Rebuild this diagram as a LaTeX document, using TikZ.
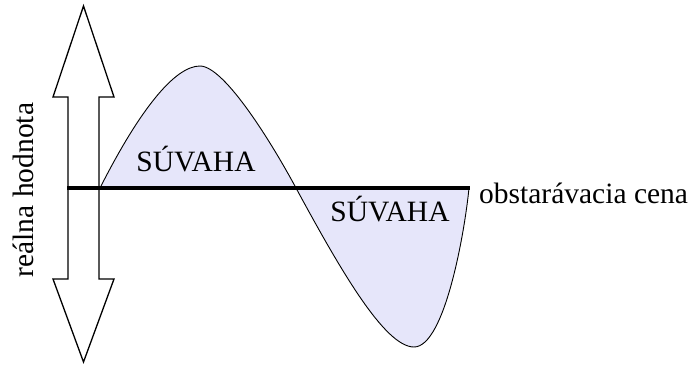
\documentclass[tikz,border=0pt]{standalone}
\usepackage{fontspec}
\setmainfont{Liberation Serif}
\usetikzlibrary{positioning}
\definecolor{lobefill}{RGB}{230,230,250}
\tikzset{
	arrowshape/.style={
		draw=black,
		fill=white,
		line width=1.3pt,
		line join=miter
	},
	lobe/.style={
		fill=lobefill,
		draw=black,
		line width=0.9pt
	},
	axisline/.style={
		line width=4pt
	},
	lobetext/.style={
		inner sep=0pt,
		font=\fontsize{29.5}{31}\selectfont
	}
}

\begin{document}
\begin{tikzpicture}[x=1pt,y=-1pt]
	\useasboundingbox (0,0) rectangle (689,365);
	
	% Double arrow
	\coordinate (tipT) at (83.5,6);
	\coordinate (tipB) at (83.5,362);
	\draw[arrowshape] (tipT) -- (114,97) -- (99,97) -- (99,279) -- (114,279)
		-- (tipB) -- (53,279) -- (68,279) -- (68,97) -- (53,97) -- cycle;
	
	% Curve points
	\coordinate (start) at (100,188);
	\coordinate (peak) at (200,66);
	\coordinate (cross) at (296,188);
	\coordinate (trough) at (414,347);
	\coordinate (stop) at (469,188);
	
	% Lobes
	\fill[lobefill] (start) .. controls (140,109) and (175,66) .. (peak)
		.. controls (225,66) and (274,147) .. (cross)
		.. controls (341,271) and (385,347) .. (trough)
		.. controls (445,347) and (465,230) .. (stop) -- cycle;
	\draw[line width=0.9pt] (start) .. controls (140,109) and (175,66) .. (peak)
		.. controls (225,66) and (274,147) .. (cross)
		.. controls (341,271) and (385,347) .. (trough)
		.. controls (445,347) and (465,230) .. (stop);
	
	% Axis
	\coordinate (axL) at (67,188);
	\coordinate (axR) at (470,188);
	\draw[axisline] (axL) -- (axR);
	
	% Texts
	\node[lobetext,anchor=base] (upper) at (196,171.5) {SÚVAHA};
	\node[lobetext,anchor=base] (lower) at (390,221.5) {SÚVAHA};
	\node[lobetext,anchor=base west] (cena) at (479,203) {obstarávacia cena};
	\node[lobetext,anchor=base,rotate=90] (hodnota) at (33,190) {reálna hodnota};
	
\end{tikzpicture}
\end{document}
